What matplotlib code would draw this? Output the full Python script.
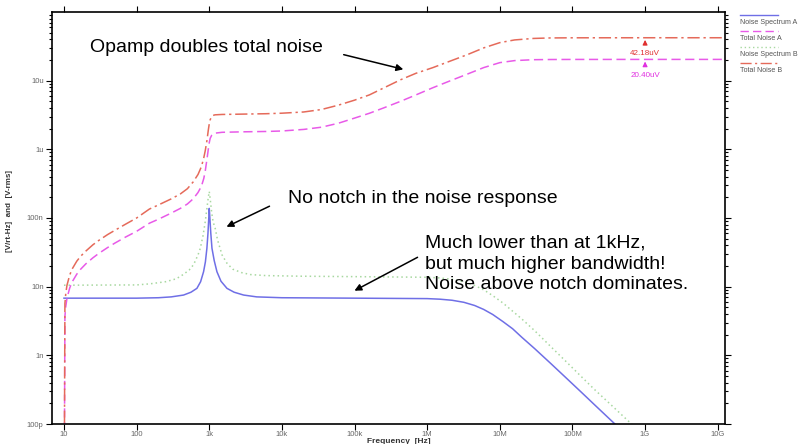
import matplotlib
matplotlib.use("Agg")
import matplotlib.pyplot as plt
from matplotlib.lines import Line2D
from matplotlib.patches import FancyArrowPatch

plt.rcParams["font.family"] = ["Liberation Sans", "DejaVu Sans"]

# Noise Spectrum A (blue, solid)  [Hz], [V/rt-Hz]
freq_a = [10, 100, 200, 300, 443, 560, 676, 760, 835, 885, 928, 960, 985, 1000, 1020,
          1050, 1090, 1170, 1276, 1450, 1753, 2200, 2973, 4500, 1e4, 1e5, 1e6, 1.5e6,
          2.2e6, 3.2e6, 4.5e6, 6e6, 8e6, 1.1e7, 1.5e7, 2e7, 3e7, 5e7, 8e7, 1.3e8, 2e8,
          3.4e8, 5e8]
spec_a = [6.8e-9, 6.8e-9, 6.9e-9, 7.1e-9, 7.55e-9, 8.3e-9, 9.45e-9, 11.8e-9, 16.5e-9,
          23e-9, 36.2e-9, 60e-9, 100e-9, 138e-9, 100e-9, 60e-9, 36.2e-9, 24e-9, 16.5e-9,
          12e-9, 9.45e-9, 8.3e-9, 7.55e-9, 7.1e-9, 6.9e-9, 6.8e-9, 6.7e-9, 6.57e-9,
          6.34e-9, 5.92e-9, 5.32e-9, 4.66e-9, 3.93e-9, 3.11e-9, 2.44e-9, 1.84e-9,
          1.26e-9, 0.765e-9, 0.48e-9, 0.296e-9, 0.192e-9, 0.113e-9, 0.077e-9]

# Noise Spectrum B (green, dotted)
freq_b = [10, 100, 153, 250, 350, 437, 530, 608, 700, 752, 820, 880, 930, 970, 1000,
          1030, 1080, 1130, 1210, 1300, 1500, 1750, 2100, 2800, 3700, 6000, 1.8e4, 1e5,
          1e6, 1.5e6, 2.2e6, 3.2e6, 4.5e6, 6e6, 8e6, 1.1e7, 1.5e7, 2e7, 3e7, 5e7, 8e7,
          1.3e8, 2e8, 3.4e8, 6.5e8, 1e9]
spec_b = [10.5e-9, 10.6e-9, 11e-9, 11.8e-9, 13e-9, 15e-9, 17.5e-9, 20.9e-9, 29e-9,
          36e-9, 55e-9, 88e-9, 140e-9, 200e-9, 243e-9, 190e-9, 120e-9, 88e-9, 70e-9,
          48e-9, 29e-9, 22e-9, 18e-9, 16e-9, 15e-9, 14.5e-9, 14.2e-9, 14e-9, 13.7e-9,
          13.4e-9, 12.8e-9, 11.8e-9, 10.4e-9, 9.0e-9, 7.4e-9, 5.8e-9, 4.4e-9, 3.4e-9,
          2.3e-9, 1.35e-9, 0.83e-9, 0.5e-9, 0.32e-9, 0.19e-9, 0.1e-9, 0.065e-9]

# Total Noise A (magenta, dashed) and Total Noise B (red, dash-dot)  [V-rms]
freq_t = [10, 10.3, 10.6, 11, 12, 13, 15, 17, 20, 25, 30, 40, 50, 70, 100, 150, 200, 300,
          400, 500, 600, 700, 780, 840, 880, 930, 970, 1000, 1030, 1080, 1130, 1200, 1500,
          3000, 6000, 1e4, 2e4, 3.5e4, 6e4, 1e5, 1.6e5, 2.5e5, 4.3e5, 7e5, 1.2e6, 2e6,
          3.6e6, 6e6, 1e7, 1.6e7, 2.9e7, 5e7, 1e8, 1e9, 1.26e10]
total_a = [1e-12, 3.7e-9, 5.2e-9, 6.8e-9, 9.6e-9, 11.8e-9, 15.2e-9, 18e-9, 21.5e-9,
           26.3e-9, 30.4e-9, 37.2e-9, 43e-9, 52.6e-9, 64e-9, 84e-9, 96e-9, 118e-9,
           138e-9, 160e-9, 190e-9, 235e-9, 290e-9, 375e-9, 480e-9, 720e-9, 1.0e-6,
           1.25e-6, 1.45e-6, 1.6e-6, 1.67e-6, 1.72e-6, 1.77e-6, 1.8e-6, 1.82e-6, 1.85e-6,
           1.95e-6, 2.1e-6, 2.4e-6, 2.85e-6, 3.35e-6, 4.0e-6, 5.0e-6, 6.2e-6, 7.9e-6,
           9.8e-6, 12.5e-6, 15.5e-6, 18.3e-6, 19.6e-6, 20.2e-6, 20.33e-6, 20.38e-6,
           20.40e-6, 20.40e-6]
total_b = [1e-12, 5.7e-9, 8.1e-9, 10.5e-9, 14.8e-9, 18.2e-9, 23.5e-9, 27.8e-9, 33e-9,
           40.7e-9, 47e-9, 57.5e-9, 66e-9, 81e-9, 100e-9, 135e-9, 155e-9, 190e-9, 224e-9,
           267e-9, 335e-9, 430e-9, 560e-9, 750e-9, 950e-9, 1.35e-6, 1.9e-6, 2.35e-6,
           2.7e-6, 3.0e-6, 3.12e-6, 3.18e-6, 3.22e-6, 3.26e-6, 3.3e-6, 3.36e-6, 3.5e-6,
           3.8e-6, 4.4e-6, 5.2e-6, 6.2e-6, 7.8e-6, 10.3e-6, 12.8e-6, 15.5e-6, 19e-6,
           24e-6, 30e-6, 35.8e-6, 39.2e-6, 41.2e-6, 41.9e-6, 42.1e-6, 42.18e-6, 42.18e-6]

cursor_f = 1e9
cursor_b = 42.18e-6
cursor_a = 20.40e-6

xticks = [10, 100, 1e3, 1e4, 1e5, 1e6, 1e7, 1e8, 1e9, 1e10]
xlabels = ["10", "100", "1k", "10k", "100k", "1M", "10M", "100M", "1G", "10G"]
yticks = [1e-10, 1e-9, 1e-8, 1e-7, 1e-6, 1e-5]
ylabels = ["100p", "1n", "10n", "100n", "1u", "10u"]

C_A = "#6f6fe6"
C_B = "#a8d8a0"
C_TA = "#e85ae8"
C_TB = "#e56a5a"
LS_B = (0, (1, 2))
LS_TA = (0, (6, 3))
LS_TB = (0, (8, 2.5, 1.5, 2.5))

W, H = 801, 444


def fxy(px, py):
    return px / W, 1 - py / H


fig = plt.figure(figsize=(W / 100, H / 100), dpi=100)
ax = fig.add_axes([52 / W, 1 - 424 / H, (725 - 52) / W, (424 - 12) / H])

ax.plot(freq_a, spec_a, color=C_A, lw=1.1, ls="-")
ax.plot(freq_b, spec_b, color=C_B, lw=1.1, ls=LS_B)
ax.plot(freq_t, total_a, color=C_TA, lw=1.1, ls=LS_TA)
ax.plot(freq_t, total_b, color=C_TB, lw=1.1, ls=LS_TB)

ax.set_xscale("log")
ax.set_yscale("log")
ax.set_xlim(6.84, 1.26e10)
ax.set_ylim(1e-10, 1e-4)
ax.set_xticks(xticks)
ax.set_xticklabels(xlabels)
ax.set_yticks(yticks)
ax.set_yticklabels(ylabels)
ax.tick_params(which="both", direction="out", top=True, right=True,
               labelsize=5.5, labelcolor="#666666", width=0.8, pad=2)
ax.tick_params(axis="x", which="both", pad=1)
ax.tick_params(which="major", length=4)
ax.tick_params(which="minor", length=2)
for s in ax.spines.values():
    s.set_linewidth(1.2)

ax.set_xlabel("Frequency  [Hz]", fontsize=6, fontweight="bold", color="#333333")
ax.xaxis.set_label_coords(0.515, -0.034)
ax.set_ylabel("[V/rt-Hz]  and  [V-rms]", fontsize=5.8, fontweight="bold", color="#333333")
ax.yaxis.set_label_coords(-0.058, 0.517)

# cursors at 1G
for val, col, txt in [(cursor_b, "#e03030", "42.18uV"), (cursor_a, "#e030e0", "20.40uV")]:
    ax.annotate("", xy=(cursor_f, val * 1.02), xytext=(cursor_f, val * 0.72),
                arrowprops=dict(arrowstyle="-|>", color=col, lw=0.8, mutation_scale=7))
    ax.text(cursor_f, val * 0.585, txt, color=col, fontsize=5.8, ha="center", va="center")

# annotations
note_kw = dict(fontsize=14, va="center", ha="left")
fig.text(*fxy(90, 48), "Opamp doubles total noise", **note_kw)
fig.text(*fxy(288, 198), "No notch in the noise response", **note_kw)
fig.text(*fxy(425, 264), "Much lower than at 1kHz,\nbut much higher bandwidth!\nNoise above notch dominates.",
         linespacing=1.3, **note_kw)
arrow = dict(arrowstyle="-|>", color="black", lw=1.1, mutation_scale=10)
for tail, head in [((341, 54), (406, 70)), ((272, 205), (224, 228)), ((420, 256), (352, 292))]:
    fig.add_artist(FancyArrowPatch(fxy(*tail), fxy(*head), transform=fig.transFigure, **arrow))

# legend, sample line above each name
legend_rows = [("Noise Spectrum A", C_A, "-", 15),
               ("Total Noise A", C_TA, LS_TA, 31),
               ("Noise Spectrum B", C_B, LS_B, 47),
               ("Total Noise B", C_TB, LS_TB, 63)]
for name, col, ls, py in legend_rows:
    x0, y0 = fxy(740, py)
    x1, _ = fxy(778, py)
    fig.add_artist(Line2D([x0, x1], [y0, y0], transform=fig.transFigure, color=col, lw=1, ls=ls))
    fig.text(x0, fxy(0, py + 8)[1], name, fontsize=5.1, color="#555555", va="center", ha="left")

fig.savefig("out.png", dpi=100)
